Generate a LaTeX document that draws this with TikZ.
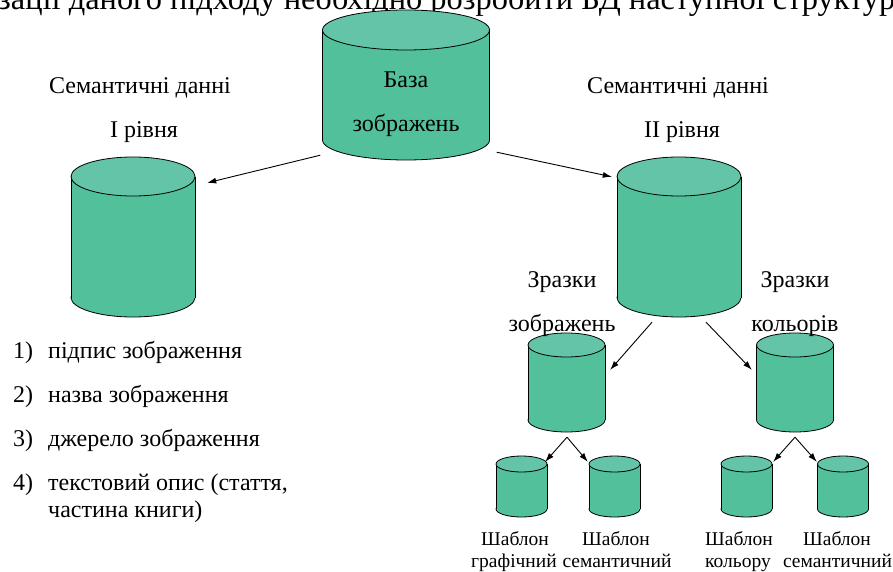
\documentclass[tikz,border=0pt]{standalone}
\usepackage{fontspec}
\setmainfont{Liberation Serif}
\usetikzlibrary{arrows.meta,calc}
\definecolor{cylbody}{RGB}{82,192,154}
\definecolor{cyltop}{RGB}{99,196,167}
\tikzset{
  arr/.style={line width=0.9pt,-{Latex[length=9pt,width=6pt]}},
  big/.style={font=\fontsize{24}{28}\selectfont,anchor=base,inner sep=0},
  lst/.style={font=\fontsize{24}{28}\selectfont,anchor=base west,inner sep=0},
  sml/.style={font=\fontsize{19.5}{23}\selectfont,anchor=base,inner sep=0},
}
% name, cx, ytop(of top ellipse), rx, ry, ybottom(of bottom ellipse)
\newcommand\dbcyl[6]{%
  \pgfmathsetmacro\yc{#3+#5}\pgfmathsetmacro\yb{#6-#5}%
  \filldraw[fill=cylbody,draw=black,line width=0.8pt] (#2,\yb) ellipse [x radius=#4,y radius=#5];
  \fill[cylbody] (#2-#4,\yc) rectangle (#2+#4,\yb);
  \draw[line width=0.8pt] (#2-#4,\yc) -- (#2-#4,\yb) (#2+#4,\yc) -- (#2+#4,\yb);
  \filldraw[fill=cyltop,draw=black,line width=0.8pt] (#2,\yc) ellipse [x radius=#4,y radius=#5];
  \node[inner sep=0,minimum width={2*#4pt},minimum height={(#6-#3)*1pt}] (#1) at (#2,{(#3+#6)/2}) {};
}
\begin{document}
\begin{tikzpicture}[x=1pt,y=-1pt]
\useasboundingbox (0,0) rectangle (893,572);
\begin{scope}
\clip (0,0) rectangle (893,572);
\node[anchor=base west,inner sep=0,font=\fontsize{32.4}{38}\selectfont] (head) at (-2,10) {зації даного підходу необхідно розробити БД наступної структури};
\end{scope}

\dbcyl{main}{406}{10}{83.5}{20}{160}
\dbcyl{L}{133}{157}{62}{19.5}{317}
\dbcyl{R}{679}{157}{62}{19.5}{317}
\dbcyl{M1}{566.5}{333}{38.5}{12}{432}
\dbcyl{M2}{795}{333}{38.5}{12}{432}
\dbcyl{S1}{521.5}{456}{25.5}{8}{517}
\dbcyl{S2}{614.5}{456}{25.5}{8}{517}
\dbcyl{S3}{746.5}{456}{25.5}{8}{517}
\dbcyl{S4}{843}{456}{25.5}{8}{517}

\node[big] (t1) at (406,88) {База};
\node[big] (t2) at (406,132) {зображень};
\node[big] (l1) at (140,94) {Семантичні данні};
\node[big] (l2) at (144,138) {І рівня};
\node[big] (r1) at (678,94) {Семантичні данні};
\node[big] (r2) at (682,138) {ІІ рівня};
\node[big] (z1) at (562,287) {Зразки};
\node[big] (z2) at (562,331) {зображень};
\node[big] (k1) at (795,287) {Зразки};
\node[big] (k2) at (795,331) {кольорів};

\node[lst] (n1) at (13,358) {1)};
\node[lst] (i1) at (48,358) {підпис зображення};
\node[lst] (n2) at (13,402) {2)};
\node[lst] (i2) at (48,402) {назва зображення};
\node[lst] (n3) at (13,446) {3)};
\node[lst] (i3) at (48,446) {джерело зображення};
\node[lst] (n4) at (13,490) {4)};
\node[lst] (i4) at (48,490) {текстовий опис (стаття,};
\node[lst] (i5) at (48,517) {частина книги)};

\node[sml] (s1a) at (515,545) {Шаблон};
\node[sml] (s1b) at (514,567) {графічний};
\node[sml] (s2a) at (616,545) {Шаблон};
\node[sml] (s2b) at (617,567) {семантичний};
\node[sml] (s3a) at (739,545) {Шаблон};
\node[sml] (s3b) at (738,567) {кольору};
\node[sml] (s4a) at (837,545) {Шаблон};
\node[sml] (s4b) at (837.5,567) {семантичний};

\draw[arr] ($(main.south west)+(-2,-5)$) -- ($(L.north east)+(12,26)$);
\draw[arr] ($(main.south east)+(7,-8)$) -- ($(R.north west)+(-5,20)$);
\draw[arr] ($(R.south)+(-27,5)$) -- ($(M1.north east)+(5,37)$);
\draw[arr] ($(R.south)+(27,5)$) -- ($(M2.north west)+(-4.5,37)$);
\draw[arr] ($(M1.south)+(0.5,5)$) -- ($(S1.north east)+(-2,6)$);
\draw[arr] ($(M1.south)+(0.5,5)$) -- ($(S2.north west)+(-1,6)$);
\draw[arr] ($(M2.south)+(0,5)$) -- ($(S3.north east)+(1,6)$);
\draw[arr] ($(M2.south)+(0,5)$) -- ($(S4.north west)+(-0.5,6)$);
\end{tikzpicture}
\end{document}
